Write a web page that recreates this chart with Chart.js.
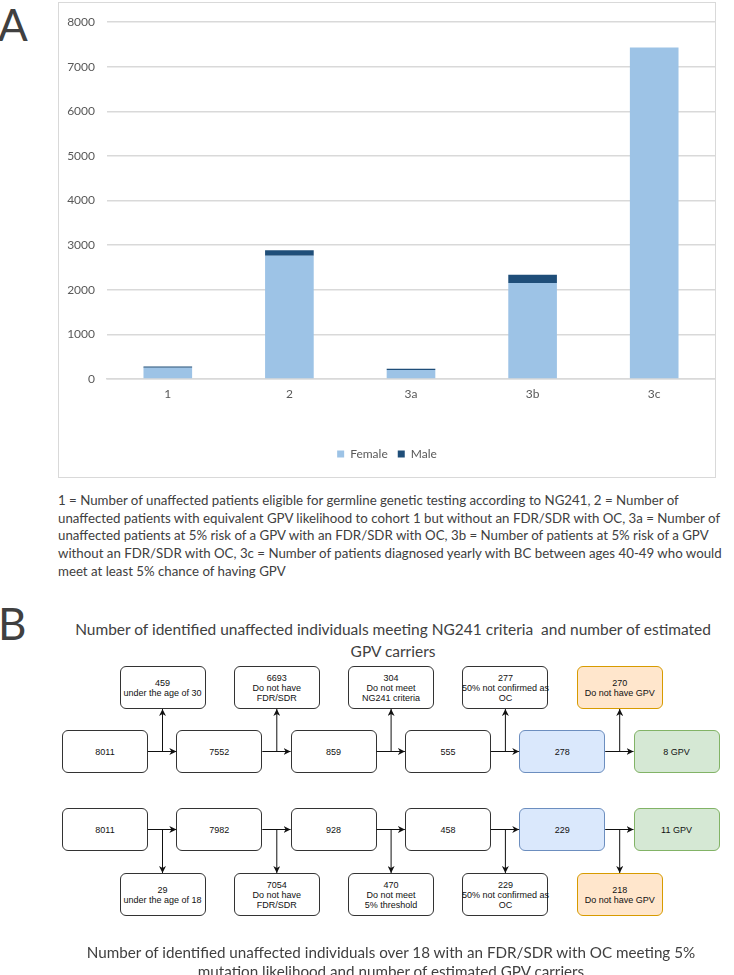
<!DOCTYPE html>
<html>
<head>
<meta charset="utf-8">
<script src="https://cdn.jsdelivr.net/npm/chart.js@4.4.0/dist/chart.umd.min.js"></script>
<style>
  html, body { margin: 0; padding: 0; background: #fff; }
  body { position: relative; width: 734px; height: 975px; overflow: hidden; font-family: Lato, "Open Sans", sans-serif; color: #404040; }
  .panelLabel { position: absolute; left: -2px; font-size: 44px; line-height: 44px; color: #404040; font-weight: 400; }
  #frameA { position: absolute; left: 58px; top: 2px; width: 658px; height: 476px; border: 1px solid #d9d9d9; box-sizing: border-box; }
  #frameA canvas { position: absolute; left: 0; top: 0; }
  .textBlock { position: absolute; white-space: pre; }
  .textBlock div { position: absolute; white-space: pre; }
  .box { position: absolute; box-sizing: border-box; border: 1px solid #333; border-radius: 6px; background: #fff;
         display: flex; flex-direction: column; align-items: center; justify-content: center; white-space: nowrap;
         font-family: "Liberation Sans", Arial, sans-serif; font-size: 9px; line-height: 10px; color: #111; text-align: center; }
  .box div { white-space: nowrap; }
  .box.blue { background: #dae8fc; border-color: #6c8ebf; }
  .box.green { background: #d5e8d4; border-color: #82b366; }
  .box.orange { background: #ffe6cc; border-color: #d79b00; }
  #arrows { position: absolute; left: 0; top: 0; }
</style>
</head>
<body>
<div class="panelLabel" style="top:2px">A</div>
<div id="frameA"><canvas id="barChart"></canvas></div>
<div id="caption" class="textBlock"></div>
<div class="panelLabel" style="top:601px">B</div>
<div id="titleTop" class="textBlock"></div>
<div id="flow"></div>
<svg id="arrows" width="734" height="975"></svg>
<div id="titleBottom" class="textBlock"></div>

<script>
// Panel A data
const categories = ["1", "2", "3a", "3b", "3c"];
const femaleCounts = [250, 2762, 200, 2155, 7430];
const maleCounts = [28, 123, 29, 185, 0];
const yMax = 8000;
const yStep = 1000;

// Panel A caption, one entry per printed line
const captionLines = [
    "1 = Number of unaffected patients eligible for germline genetic testing according to NG241, 2 = Number of",
    "unaffected patients with equivalent GPV likelihood to cohort 1 but without an FDR/SDR with OC, 3a = Number of",
    "unaffected patients at 5% risk of a GPV with an FDR/SDR with OC, 3b = Number of patients at 5% risk of a GPV",
    "without an FDR/SDR with OC, 3c = Number of patients diagnosed yearly with BC between ages 40-49 who would",
    "meet at least 5% chance of having GPV"
];

// Panel B flowchart data
const topTitle = ["Number of identified unaffected individuals meeting NG241 criteria  and number of estimated", "GPV carriers"];
const topMain = ["8011", "7552", "859", "555", "278", "8 GPV"];
const topExcluded = [
    ["459", "under the age of 30"],
    ["6693", "Do not have", "FDR/SDR"],
    ["304", "Do not meet", "NG241 criteria"],
    ["277", "50% not confirmed as", "OC"],
    ["270", "Do not have GPV"]
];
const bottomMain = ["8011", "7982", "928", "458", "229", "11 GPV"];
const bottomExcluded = [
    ["29", "under the age of 18"],
    ["7054", "Do not have", "FDR/SDR"],
    ["470", "Do not meet", "5% threshold"],
    ["229", "50% not confirmed as", "OC"],
    ["218", "Do not have GPV"]
];
const bottomTitle = ["Number of identified unaffected individuals over 18 with an FDR/SDR with OC meeting 5%", "mutation likelihood and number of estimated GPV carriers"];

document.addEventListener("DOMContentLoaded", function () {
    const tickFont = { family: "Lato, 'Open Sans', sans-serif", size: 12 };

    new Chart(document.getElementById("barChart"), {
        type: "bar",
        data: {
            labels: categories,
            datasets: [
                { label: "Female", data: femaleCounts, backgroundColor: "#9dc3e6", barPercentage: 0.4, categoryPercentage: 1 },
                { label: "Male", data: maleCounts, backgroundColor: "#1f4e79", barPercentage: 0.4, categoryPercentage: 1 }
            ]
        },
        options: {
            responsive: true,
            maintainAspectRatio: false,
            animation: false,
            layout: { padding: { top: 14, right: 0, bottom: 7, left: 0 } },
            plugins: {
                legend: {
                    position: "bottom",
                    labels: { boxWidth: 7, boxHeight: 7, padding: 10, color: "#595959", font: tickFont }
                },
                tooltip: { enabled: false }
            },
            scales: {
                x: {
                    stacked: true,
                    grid: { display: false, drawTicks: false },
                    border: { color: "#d9d9d9", width: 1.5 },
                    ticks: { color: "#595959", padding: 8, font: tickFont },
                    afterFit: function (s) { s.height = 59; }
                },
                y: {
                    stacked: true,
                    min: 0,
                    max: yMax,
                    ticks: {
                        stepSize: yStep, padding: 12, color: "#595959", font: tickFont,
                        callback: function (v) { return String(v); }
                    },
                    grid: { color: "#d9d9d9", lineWidth: 1.5, drawTicks: false },
                    border: { display: false },
                    afterFit: function (s) { s.width = 48; }
                }
            }
        }
    });

    // text blocks, fitted to the widths seen in the figure
    function textBlock(id, lines, opts) {
        const el = document.getElementById(id);
        const probe = document.createElement("span");
        probe.style.cssText = "position:absolute;visibility:hidden;white-space:pre;font-size:13px;font-family:Lato,'Open Sans',sans-serif";
        probe.textContent = lines[opts.fitLine];
        document.body.appendChild(probe);
        const size = 13 * opts.fitWidth / probe.getBoundingClientRect().width;
        probe.remove();
        lines.forEach(function (t, i) {
            const d = document.createElement("div");
            d.textContent = t;
            d.style.fontSize = size + "px";
            d.style.lineHeight = "20px";
            d.style.color = opts.color;
            d.style.top = (opts.firstY + i * opts.step - 10) + "px";
            if (opts.center) {
                d.style.left = (opts.center - 400) + "px";
                d.style.width = "800px";
                d.style.textAlign = "center";
            } else {
                d.style.left = opts.left + "px";
            }
            el.appendChild(d);
        });
    }

    textBlock("caption", captionLines, { fitLine: 1, fitWidth: 663, left: 58, firstY: 500, step: 17.7, color: "#404040" });
    textBlock("titleTop", topTitle, { fitLine: 0, fitWidth: 636, center: 393, firstY: 629, step: 22, color: "#404040" });
    textBlock("titleBottom", bottomTitle, { fitLine: 0, fitWidth: 609, center: 391, firstY: 952, step: 19, color: "#404040" });

    // flowchart
    const flow = document.getElementById("flow");
    const svg = document.getElementById("arrows");
    const NS = "http://www.w3.org/2000/svg";
    const boxW = 86, boxH = 43, colStep = 114.3, firstX = 62;

    svg.innerHTML = '<defs><marker id="ah" viewBox="0 0 10 10" refX="10" refY="5" markerWidth="7" markerHeight="7" orient="auto" markerUnits="userSpaceOnUse">' +
        '<path d="M0,0 L10,5 L0,10 L3,5 z" fill="#111"/></marker></defs>';

    function addBox(x, y, lines, cls) {
        const b = document.createElement("div");
        b.className = "box" + (cls ? " " + cls : "");
        b.style.left = x + "px";
        b.style.top = y + "px";
        b.style.width = boxW + "px";
        b.style.height = boxH + "px";
        lines.forEach(function (t) {
            const s = document.createElement("div");
            s.textContent = t;
            b.appendChild(s);
        });
        flow.appendChild(b);
    }

    function addArrow(x1, y1, x2, y2, head) {
        const l = document.createElementNS(NS, "line");
        l.setAttribute("x1", x1); l.setAttribute("y1", y1);
        l.setAttribute("x2", x2); l.setAttribute("y2", y2);
        l.setAttribute("stroke", "#111");
        l.setAttribute("stroke-width", "1");
        if (head) l.setAttribute("marker-end", "url(#ah)");
        svg.appendChild(l);
    }

    function drawRow(mainVals, excluded, mainY, exclY) {
        const midY = mainY + boxH / 2;
        const mainStyles = ["", "", "", "", "blue", "green"];
        mainVals.forEach(function (v, i) {
            const x = firstX + i * colStep;
            addBox(x, mainY, [v], mainStyles[i]);
            if (i < mainVals.length - 1) {
                addArrow(x + boxW, midY, x + colStep, midY, true);
            }
        });
        excluded.forEach(function (lines, i) {
            const bx = firstX + i * colStep + boxW + 14.5;
            addBox(bx - boxW / 2, exclY, lines, i === excluded.length - 1 ? "orange" : "");
            const edge = exclY < mainY ? exclY + boxH : exclY;
            addArrow(bx, midY, bx, edge, true);
        });
    }

    drawRow(topMain, topExcluded, 730, 666);
    drawRow(bottomMain, bottomExcluded, 808, 873);
});
</script>
</body>
</html>
